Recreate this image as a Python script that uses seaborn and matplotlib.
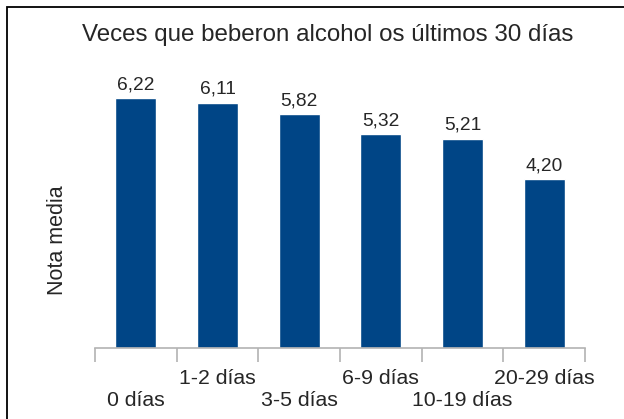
import matplotlib
matplotlib.use("Agg")
import matplotlib.pyplot as plt
from matplotlib.patches import Rectangle
from matplotlib.ticker import FixedLocator
from matplotlib.transforms import ScaledTranslation
import seaborn as sns
import pandas as pd

# data
categorias = ["0 días", "1-2 días", "3-5 días", "6-9 días", "10-19 días", "20-29 días"]
nota_media = [6.22, 6.11, 5.82, 5.32, 5.21, 4.20]
titulo = "Veces que beberon alcohol os últimos 30 días"
etiqueta_y = "Nota media"

sns.set_style("white")
plt.rcParams["font.family"] = ["Liberation Sans", "DejaVu Sans"]

df = pd.DataFrame({"cat": categorias, "valor": nota_media})

fig = plt.figure(figsize=(6.24, 4.19), dpi=100)
ax = fig.add_axes([95 / 624, 71 / 419, 490 / 624, 281 / 419])

sns.barplot(data=df, x="cat", y="valor", color="#004586", width=0.5,
            saturation=1, ax=ax)

ax.set_xlim(-0.5, len(categorias) - 0.5)
ax.set_ylim(0, 7)
ax.set_yticks([])
ax.set_xlabel("")
ax.set_ylabel(etiqueta_y, fontsize=15.5)
ax.yaxis.set_label_coords(-0.055, 0.384)

for s in ["top", "right", "left"]:
    ax.spines[s].set_visible(False)
ax.spines["bottom"].set_color("#B3B3B3")
ax.spines["bottom"].set_linewidth(1.2)

# tick marks between the categories, labels staggered on two rows
ax.xaxis.set_minor_locator(FixedLocator([i - 0.5 for i in range(len(categorias) + 1)]))
ax.tick_params(axis="x", which="minor", length=10, width=1.2, color="#B3B3B3", bottom=True)
ax.tick_params(axis="x", which="major", length=0, pad=15, labelsize=15.3)
ax.set_xticks(range(len(categorias)))
ax.set_xticklabels(categorias)
shift = ScaledTranslation(0, -22 / 100, fig.dpi_scale_trans)
for i, lbl in enumerate(ax.get_xticklabels()):
    if i % 2 == 0:
        lbl.set_transform(lbl.get_transform() + shift)

for i, v in enumerate(nota_media):
    ax.annotate(f"{v:.2f}".replace(".", ","), (i, v), xytext=(0, 3.5),
                textcoords="offset points", ha="center", va="bottom", fontsize=13.8)

fig.text(328 / 624, 1 - 35 / 419, titulo, ha="center", va="center", fontsize=17.4)

fig.patches.append(Rectangle((7 / 624, -0.2), 1.2, 1.2 - 7 / 419,
                             transform=fig.transFigure, fill=False,
                             edgecolor="black", linewidth=1.3))

fig.savefig("out.png", dpi=100)
